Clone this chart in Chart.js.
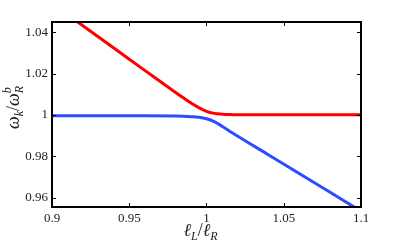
<!DOCTYPE html>
<html>
<head>
<meta charset="utf-8">
<script src="https://cdn.jsdelivr.net/npm/chart.js@4/dist/chart.umd.min.js"></script>
<style>
  html, body { margin: 0; padding: 0; background: #fff; }
  #wrap { width: 415px; height: 242px; position: relative; }
</style>
</head>
<body>
<div id="wrap"><canvas id="chart"></canvas></div>
<script>
// values
const ratio = [0.9, 0.92, 0.94, 0.96, 0.98, 0.985, 0.99, 0.995, 1.0, 1.005, 1.01, 1.015, 1.02, 1.04, 1.06, 1.08, 1.1];
const upperBranch = [1.054, 1.0432, 1.0324, 1.0216, 1.0109, 1.0083, 1.0058, 1.0036, 1.0018, 1.0008, 1.0004, 1.0002, 1.0001, 1.0001, 1.0001, 1.0001, 1.0001];
const lowerBranch = [0.9996, 0.9996, 0.9996, 0.9996, 0.9995, 0.9994, 0.9992, 0.9989, 0.9982, 0.9968, 0.9946, 0.9922, 0.9898, 0.9808, 0.9717, 0.9626, 0.9535];
const xTicks = [0.9, 0.95, 1, 1.05, 1.1];
const yTicks = [0.96, 0.98, 1, 1.02, 1.04];

const serif = '"Liberation Serif", "DejaVu Serif", serif';

function pts(ys) {
  return ratio.map((x, i) => ({ x: x, y: ys[i] }));
}

// box, inward ticks and math-style axis titles
const frame = {
  id: 'frame',
  afterDraw: chart => {
    const ctx = chart.ctx;
    const a = chart.chartArea;
    const sx = chart.scales.x, sy = chart.scales.y;
    ctx.save();
    ctx.strokeStyle = '#000';
    ctx.lineWidth = 2;
    ctx.strokeRect(a.left, a.top, a.right - a.left, a.bottom - a.top);
    ctx.lineWidth = 1;
    ctx.beginPath();
    xTicks.forEach(v => {
      const px = Math.round(sx.getPixelForValue(v)) + 0.5;
      ctx.moveTo(px, a.bottom); ctx.lineTo(px, a.bottom - 4);
      ctx.moveTo(px, a.top); ctx.lineTo(px, a.top + 4);
    });
    yTicks.forEach(v => {
      const py = Math.round(sy.getPixelForValue(v)) + 0.5;
      ctx.moveTo(a.left, py); ctx.lineTo(a.left + 4, py);
      ctx.moveTo(a.right, py); ctx.lineTo(a.right - 4, py);
    });
    ctx.stroke();

    ctx.fillStyle = '#222';
    ctx.textBaseline = 'alphabetic';
    // x title: l_L / l_R
    const big = 'italic 18px ' + serif, small = 'italic 12px ' + serif, up = '18px ' + serif;
    const parts = [
      ['ℓ', big, 0], ['L', small, 4], ['/', up, 0], ['ℓ', big, 0], ['R', small, 4]
    ];
    let w = 0;
    parts.forEach(p => { ctx.font = p[1]; w += ctx.measureText(p[0]).width; });
    let x0 = (a.left + a.right) / 2 - w / 2 - 6;
    const base = 236;
    parts.forEach(p => {
      ctx.font = p[1];
      ctx.fillText(p[0], x0, base + p[2]);
      x0 += ctx.measureText(p[0]).width;
    });

    // y title: omega_k / omega_R^b, rotated
    ctx.translate(19, (a.top + a.bottom) / 2 - 7);
    ctx.rotate(-Math.PI / 2);
    const yparts = [
      ['ω', big, 0, 0], ['k', small, 4, 0], ['/', up, 0, 0], ['ω', big, 0, 0], ['R', small, 4, 0], ['b', small, -8, 1]
    ];
    let w2 = 0;
    yparts.forEach(p => { if (!p[3]) { ctx.font = p[1]; w2 += ctx.measureText(p[0]).width; } });
    let y0 = -w2 / 2;
    let prev = 0;
    yparts.forEach(p => {
      ctx.font = p[1];
      const tw = ctx.measureText(p[0]).width;
      if (p[3]) {
        ctx.fillText(p[0], y0 - prev, p[2]);
      } else {
        ctx.fillText(p[0], y0, p[2]);
        y0 += tw;
        prev = tw;
      }
    });
    ctx.restore();
  }
};

new Chart(document.getElementById('chart'), {
  type: 'line',
  data: {
    datasets: [
      { label: 'upper', data: pts(upperBranch), borderColor: '#ff0000', borderWidth: 3, pointRadius: 0, tension: 0.4, cubicInterpolationMode: 'monotone' },
      { label: 'lower', data: pts(lowerBranch), borderColor: '#2d4cff', borderWidth: 3, pointRadius: 0, tension: 0.4, cubicInterpolationMode: 'monotone' },
    ],
  },
  plugins: [frame],
  options: {
    animation: false,
    responsive: true,
    maintainAspectRatio: false,
    layout: { padding: { left: 0, right: 54, top: 22, bottom: 0 } },
    plugins: { legend: { display: false }, tooltip: { enabled: false } },
    scales: {
      x: {
        type: 'linear',
        min: 0.9,
        max: 1.1,
        afterBuildTicks: s => { s.ticks = xTicks.map(v => ({ value: v })); },
        afterFit: s => { s.height = 35; },
        grid: { display: false, drawTicks: false },
        border: { display: false },
        ticks: { color: '#222', padding: 4, maxRotation: 0, font: { family: serif, size: 13 }, callback: v => String(+v.toFixed(2)) },
      },
      y: {
        type: 'linear',
        min: 0.9555,
        max: 1.045,
        afterBuildTicks: s => { s.ticks = yTicks.map(v => ({ value: v })); },
        afterFit: s => { s.width = 52; },
        grid: { display: false, drawTicks: false },
        border: { display: false },
        ticks: { color: '#222', padding: 4, font: { family: serif, size: 13 }, callback: v => String(+v.toFixed(2)) },
      },
    },
  },
});
</script>
</body>
</html>
